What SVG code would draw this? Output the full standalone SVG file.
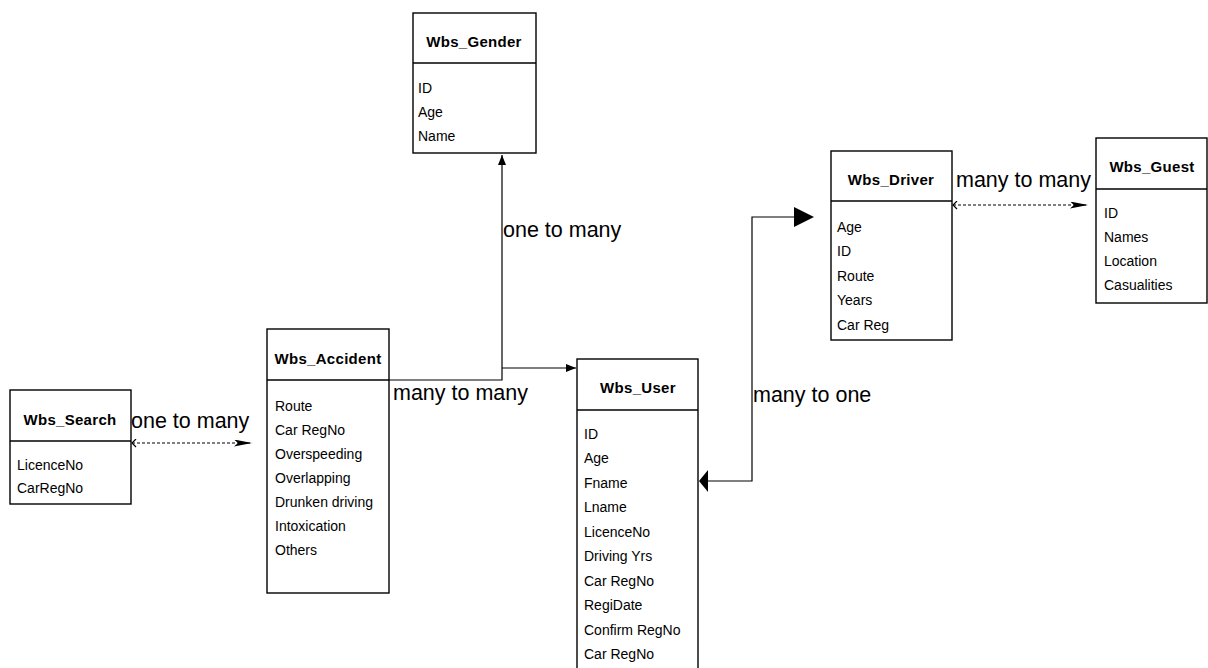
<svg xmlns="http://www.w3.org/2000/svg" width="1208" height="668" viewBox="0 0 1208 668">
<style>
.box{fill:#fff;stroke:#000;stroke-width:1.4}
.div{stroke:#000;stroke-width:1.4}
.hdr{font-family:"Liberation Sans",Arial,sans-serif;font-size:15px;font-weight:bold;text-anchor:middle;letter-spacing:0.3px;fill:#000}
.att{font-family:"Liberation Sans",Arial,sans-serif;font-size:14px;fill:#000}
.lbl{font-family:"Liberation Sans",Arial,sans-serif;font-size:21.5px;fill:#000}
.ln{fill:none;stroke:#000;stroke-width:1.2}
.dash{fill:none;stroke:#000;stroke-width:1.2;stroke-dasharray:3,2}
</style>
<defs>
<marker id="ah" markerWidth="12" markerHeight="10" refX="10" refY="4" orient="auto" markerUnits="userSpaceOnUse"><path d="M0,0 L10,4 L0,8 Z" fill="#000"/></marker>
<marker id="ahn" markerWidth="20" markerHeight="8" refX="18" refY="3.5" orient="auto" markerUnits="userSpaceOnUse"><path d="M0,0 L18,3.5 L0,7 L4,3.5 Z" fill="#000"/></marker>
<marker id="tail" markerWidth="8" markerHeight="10" refX="1" refY="4" orient="auto" markerUnits="userSpaceOnUse"><path d="M5,0 L1,4 L5,8" fill="none" stroke="#000" stroke-width="1.2"/></marker>
</defs>

<g id="connectors">
  <path class="dash" d="M132,443 L252,443" marker-start="url(#tail)" marker-end="url(#ahn)"/>
  <path class="ln" d="M389,380 L502,380 L502,155" marker-end="url(#ah)"/>
  <path class="ln" d="M502,368 L576,368" marker-end="url(#ah)"/>
  <path class="ln" d="M708,481 L752,481 L752,217 L794,217"/>
  <path d="M794,207 L814,217 L794,227 Z" fill="#000"/>
  <path d="M699,481 L708,470 L708,492 Z" fill="#000"/>
  <path class="dash" d="M953,205 L1088,205" marker-start="url(#tail)" marker-end="url(#ahn)"/>
  <text class="lbl" x="131" y="428">one to many</text>
  <text class="lbl" x="503" y="237">one to many</text>
  <text class="lbl" x="393" y="400">many to many</text>
  <text class="lbl" x="753" y="402">many to one</text>
  <text class="lbl" x="956" y="187">many to many</text>
</g>

<g id="Wbs_Gender">
  <rect class="box" x="413" y="13" width="123" height="140"/>
  <line class="div" x1="413" y1="63" x2="536" y2="63"/>
  <text class="hdr" x="474" y="47">Wbs_Gender</text>
  <text class="att" x="418" y="93">ID</text>
  <text class="att" x="418" y="117">Age</text>
  <text class="att" x="418" y="141">Name</text>
</g>

<g id="Wbs_Search">
  <rect class="box" x="10" y="390" width="121" height="114"/>
  <line class="div" x1="10" y1="441" x2="131" y2="441"/>
  <text class="hdr" x="70" y="425">Wbs_Search</text>
  <text class="att" x="17" y="470">LicenceNo</text>
  <text class="att" x="17" y="493">CarRegNo</text>
</g>

<g id="Wbs_Accident">
  <rect class="box" x="267" y="329" width="122" height="264"/>
  <line class="div" x1="267" y1="380" x2="389" y2="380"/>
  <text class="hdr" x="328" y="364">Wbs_Accident</text>
  <text class="att" x="275" y="411">Route</text>
  <text class="att" x="275" y="435">Car RegNo</text>
  <text class="att" x="275" y="459">Overspeeding</text>
  <text class="att" x="275" y="483">Overlapping</text>
  <text class="att" x="275" y="507">Drunken driving</text>
  <text class="att" x="275" y="531">Intoxication</text>
  <text class="att" x="275" y="555">Others</text>
</g>

<g id="Wbs_User">
  <rect class="box" x="577" y="359" width="121" height="320"/>
  <line class="div" x1="577" y1="410" x2="698" y2="410"/>
  <text class="hdr" x="638" y="393">Wbs_User</text>
  <text class="att" x="584" y="439">ID</text>
  <text class="att" x="584" y="463">Age</text>
  <text class="att" x="584" y="488">Fname</text>
  <text class="att" x="584" y="512">Lname</text>
  <text class="att" x="584" y="537">LicenceNo</text>
  <text class="att" x="584" y="561">Driving Yrs</text>
  <text class="att" x="584" y="586">Car RegNo</text>
  <text class="att" x="584" y="610">RegiDate</text>
  <text class="att" x="584" y="635">Confirm RegNo</text>
  <text class="att" x="584" y="659">Car RegNo</text>
</g>

<g id="Wbs_Driver">
  <rect class="box" x="831" y="151" width="121" height="189"/>
  <line class="div" x1="831" y1="201" x2="952" y2="201"/>
  <text class="hdr" x="891" y="185">Wbs_Driver</text>
  <text class="att" x="837" y="232">Age</text>
  <text class="att" x="837" y="256">ID</text>
  <text class="att" x="837" y="281">Route</text>
  <text class="att" x="837" y="305">Years</text>
  <text class="att" x="837" y="330">Car Reg</text>
</g>

<g id="Wbs_Guest">
  <rect class="box" x="1096" y="138" width="111" height="165"/>
  <line class="div" x1="1096" y1="189" x2="1207" y2="189"/>
  <text class="hdr" x="1152" y="172">Wbs_Guest</text>
  <text class="att" x="1104" y="218">ID</text>
  <text class="att" x="1104" y="242">Names</text>
  <text class="att" x="1104" y="266">Location</text>
  <text class="att" x="1104" y="290">Casualities</text>
</g>
</svg>
